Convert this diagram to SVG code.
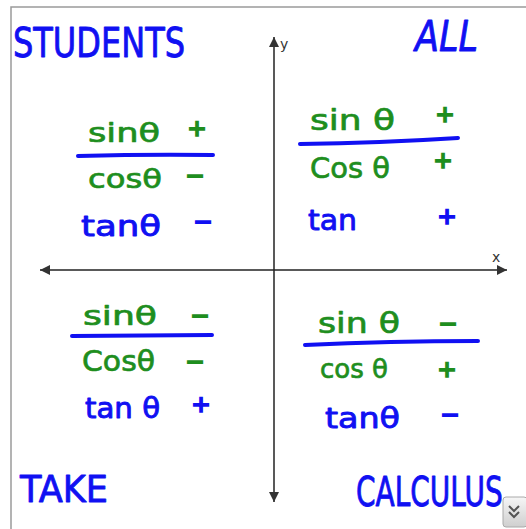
<svg xmlns="http://www.w3.org/2000/svg" width="526" height="529" viewBox="0 0 526 529">
<style>
  .hw { font-family: "DejaVu Sans", "Liberation Sans", sans-serif; stroke-linejoin: round; stroke-linecap: round; }
  .g { fill: #1e8e1e; stroke: #1e8e1e; stroke-width: 0.7; }
  .b { fill: #1010f2; stroke: #1010f2; stroke-width: 0.9; }
  .sign { font-family: "Liberation Sans", sans-serif; text-anchor: middle; font-size: 30px; stroke-width: 1.6; }
  .rule { fill: none; stroke: #1010f2; stroke-width: 4; stroke-linecap: round; }
  .axis { stroke: #222; stroke-width: 1.5; fill: none; }
  .axlbl { font-family: "DejaVu Sans", sans-serif; font-size: 14px; fill: #333; }
</style>
<defs>
  <marker id="arr" viewBox="0 0 10 10" refX="10" refY="5" markerWidth="14" markerHeight="10" markerUnits="userSpaceOnUse" orient="auto-start-reverse">
    <path d="M0,0 L10,5 L0,10 z" fill="#333"/>
  </marker>
  <linearGradient id="btn" x1="0" y1="0" x2="0" y2="1">
    <stop offset="0" stop-color="#f6f6f6"/>
    <stop offset="1" stop-color="#cfcfcf"/>
  </linearGradient>
</defs>
<rect width="526" height="529" fill="#fff"/>
<path d="M11 529 V7 H526" fill="none" stroke="#9a9a9a" stroke-width="1.5"/>

<g id="connectors">
  <line class="axis" x1="274" y1="37" x2="274" y2="502" marker-start="url(#arr)" marker-end="url(#arr)"/>
  <line class="axis" x1="40" y1="270" x2="507" y2="270" marker-start="url(#arr)" marker-end="url(#arr)"/>
</g>
<text class="axlbl" x="280" y="49">y</text>
<text class="axlbl" x="492" y="262">x</text>

<g id="label-students"><text class="hw b" x="13" y="57" font-size="40" textLength="172" lengthAdjust="spacingAndGlyphs">STUDENTS</text></g>
<g id="label-all"><text class="hw b" x="415" y="51" font-size="42" font-style="italic" textLength="63" lengthAdjust="spacingAndGlyphs">ALL</text></g>
<g id="label-take"><text class="hw b" x="20" y="502" font-size="38" textLength="88" lengthAdjust="spacingAndGlyphs">TAKE</text></g>
<g id="label-calculus"><text class="hw b" transform="translate(356,506) scale(0.7,1)" x="0" y="0" font-size="40">CALCULUS</text></g>

<g id="q2">
  <text class="hw g" x="88" y="142" font-size="27" textLength="72" lengthAdjust="spacingAndGlyphs">sinθ</text>
  <text class="sign g" x="197" y="139">+</text>
  <path class="rule" d="M78 156 Q150 154 213 155"/>
  <text class="hw g" x="88" y="188" font-size="27" textLength="74" lengthAdjust="spacingAndGlyphs">cosθ</text>
  <text class="sign g" x="195" y="186">−</text>
  <text class="hw b" x="81" y="236" font-size="29" textLength="80" lengthAdjust="spacingAndGlyphs">tanθ</text>
  <text class="sign b" x="203" y="232">−</text>
</g>

<g id="q1">
  <text class="hw g" x="310" y="130" font-size="28" textLength="85" lengthAdjust="spacingAndGlyphs">sin θ</text>
  <text class="sign g" x="445" y="125">+</text>
  <path class="rule" d="M300 144 Q380 143 458 138"/>
  <text class="hw g" x="310" y="178" font-size="28" textLength="80" lengthAdjust="spacingAndGlyphs">Cos θ</text>
  <text class="sign g" x="443" y="171" font-size="26">+</text>
  <text class="hw b" x="308" y="230" font-size="29" textLength="49" lengthAdjust="spacingAndGlyphs">tan</text>
  <text class="sign b" x="447" y="227">+</text>
</g>

<g id="q3">
  <text class="hw g" x="83" y="325" font-size="27" textLength="74" lengthAdjust="spacingAndGlyphs">sinθ</text>
  <text class="sign g" x="200" y="326">−</text>
  <path class="rule" d="M72 336 L212 335"/>
  <text class="hw g" x="82" y="371" font-size="28" textLength="73" lengthAdjust="spacingAndGlyphs">Cosθ</text>
  <text class="sign g" x="195" y="372">−</text>
  <text class="hw b" x="85" y="418" font-size="28" textLength="75" lengthAdjust="spacingAndGlyphs">tan θ</text>
  <text class="sign b" x="201" y="415">+</text>
</g>

<g id="q4">
  <text class="hw g" x="318" y="333" font-size="28" textLength="82" lengthAdjust="spacingAndGlyphs">sin θ</text>
  <text class="sign g" x="448" y="334">−</text>
  <path class="rule" d="M305 345 Q390 341 478 341"/>
  <text class="hw g" x="320" y="378" font-size="27" textLength="68" lengthAdjust="spacingAndGlyphs">cos θ</text>
  <text class="sign g" x="447" y="380">+</text>
  <text class="hw b" x="325" y="428" font-size="29" textLength="75" lengthAdjust="spacingAndGlyphs">tanθ</text>
  <text class="sign b" x="450" y="425" font-size="26">−</text>
</g>

<g id="scroll-button">
  <rect x="503" y="497" width="24" height="30" rx="3" fill="url(#btn)" stroke="#aaa"/>
  <polyline points="509,506 514,511 519,506" fill="none" stroke="#555" stroke-width="2"/>
  <polyline points="509,512 514,517 519,512" fill="none" stroke="#555" stroke-width="2"/>
</g>
</svg>
